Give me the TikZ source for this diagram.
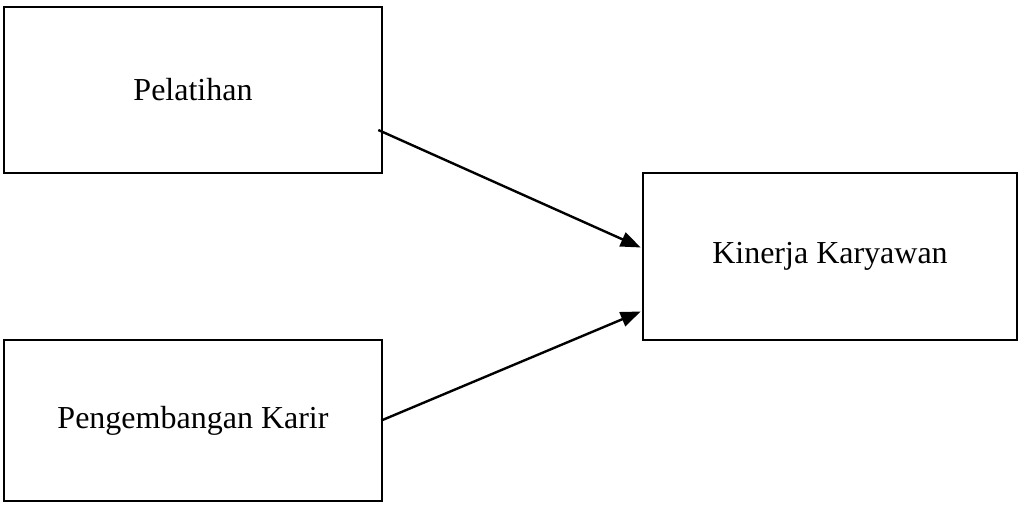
\documentclass[tikz,border=0pt]{standalone}
\usepackage{fontspec}
\setmainfont{Liberation Serif}
\usetikzlibrary{arrows.meta,calc}

\tikzset{varbox/.style={draw, line width=2.6pt, inner sep=0pt, align=center,
    font=\fontsize{32}{36}\selectfont},
  link/.style={line width=2.4pt, -{Triangle[length=20pt,width=15pt]}}}

\begin{document}
\begin{tikzpicture}[x=1pt,y=-1pt]
    \useasboundingbox (0,0) rectangle (1018,504);

    \node[varbox, minimum width=378pt, minimum height=166pt] (pel) at (193,90) {Pelatihan};
    \node[varbox, minimum width=378pt, minimum height=161pt] (karir) at (193,420.5) {Pengembangan Karir};
    \node[varbox, minimum width=374pt, minimum height=167pt] (kin) at (830,256.5) {Kinerja Karyawan};

    \coordinate (pel-out) at ($(pel.east)+(-5,40)$);
    \coordinate (karir-out) at ($(karir.east)+(-2,0)$);

    \draw[link] (pel-out) -- ($(kin.west)+(-1,-9)$);
    \draw[link] (karir-out) -- ($(kin.west)+(-1,55)$);
\end{tikzpicture}
\end{document}
